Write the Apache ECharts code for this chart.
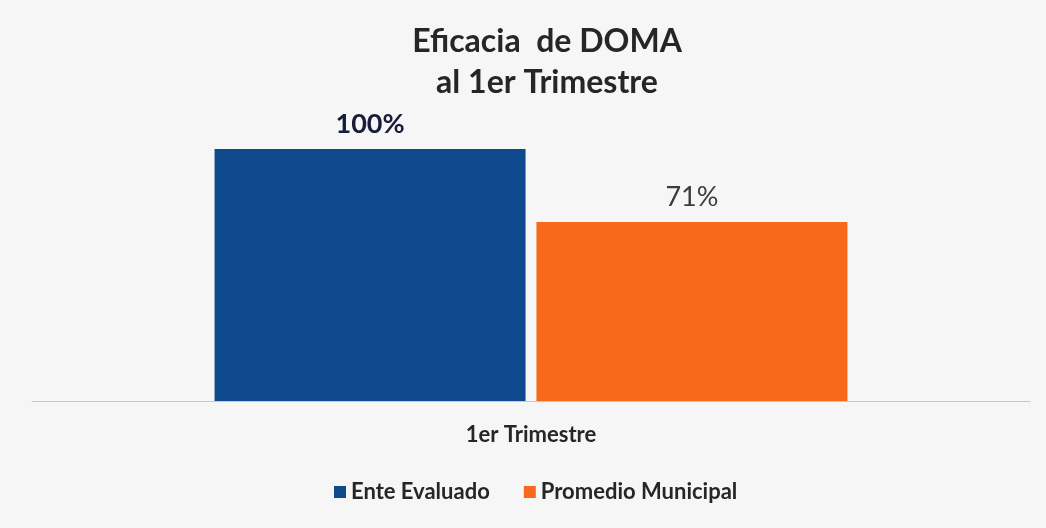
<!DOCTYPE html>
<html>
<head>
<meta charset="utf-8">
<script src="https://cdn.jsdelivr.net/npm/echarts@6/dist/echarts.min.js"></script>
<style>
  html, body { margin: 0; padding: 0; background: #f6f6f6; }
  #chart { width: 1046px; height: 528px; }
</style>
</head>
<body>
<div id="chart"></div>
<script>
// datos de la gráfica
const categories = ["1er Trimestre"];
const seriesNames = ["Ente Evaluado", "Promedio Municipal"];
const enteEvaluado = [100];
const promedioMunicipal = [71];

const chart = echarts.init(document.getElementById("chart"));

const font = "Lato, 'Open Sans', sans-serif";

const option = {
  backgroundColor: "#f6f6f6",
  animation: false,
  title: {
    text: "Eficacia  de DOMA\nal 1er Trimestre",
    left: 542,
    textAlign: "center",
    top: 16,
    textStyle: {
      fontFamily: font,
      fontSize: 32,
      fontWeight: "bold",
      color: "#262626",
      lineHeight: 41,
    },
  },
  legend: {
    data: seriesNames,
    bottom: 20,
    left: 329,
    itemWidth: 12,
    itemHeight: 12,
    itemGap: 34,
    icon: "rect",
    textStyle: {
      fontFamily: font,
      fontSize: 22,
      fontWeight: "bold",
      color: "#262626",
    },
  },
  grid: {
    left: 32,
    right: 16,
    top: 149,
    bottom: 127,
  },
  xAxis: {
    type: "category",
    data: categories,
    axisLine: { lineStyle: { color: "#c8c8c8", width: 1 } },
    axisTick: { show: false },
    axisLabel: {
      fontFamily: font,
      fontSize: 22,
      fontWeight: "bold",
      color: "#262626",
      margin: 23,
    },
  },
  yAxis: {
    type: "value",
    min: 0,
    max: 100,
    show: false,
    splitLine: { show: false },
  },
  series: [
    {
      name: seriesNames[0],
      type: "bar",
      data: enteEvaluado,
      barWidth: 311,
      barGap: "3.5%",
      itemStyle: { color: "#0f4a8e" },
      label: {
        show: true,
        position: "top",
        distance: 11,
        formatter: "{c}%",
        fontFamily: font,
        fontSize: 27,
        fontWeight: "bold",
        color: "#171c38",
      },
    },
    {
      name: seriesNames[1],
      type: "bar",
      data: promedioMunicipal,
      barWidth: 311,
      itemStyle: { color: "#f8691c" },
      label: {
        show: true,
        position: "top",
        distance: 11,
        formatter: "{c}%",
        fontFamily: font,
        fontSize: 27,
        color: "#3c3c3c",
      },
    },
  ],
};

chart.setOption(option);
</script>
</body>
</html>
